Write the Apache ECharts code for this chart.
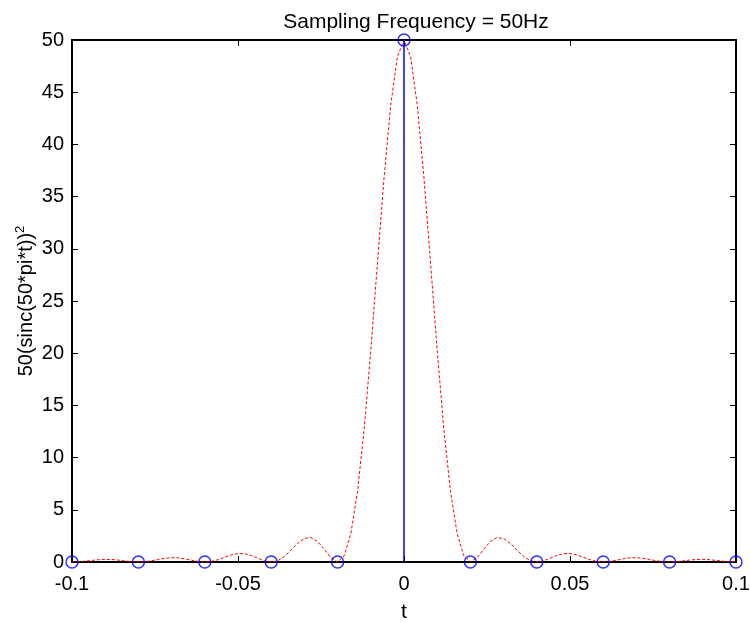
<!DOCTYPE html>
<html>
<head>
<meta charset="utf-8">
<script src="https://cdn.jsdelivr.net/npm/echarts@6/dist/echarts.min.js"></script>
<style>
html,body{margin:0;padding:0;background:#fff;}
#main{width:750px;height:622px;}
</style>
</head>
<body>
<div id="main"></div>
<script>
// dashed curve, t from -0.1 to 0.1 step 0.002
var curveT = [];
for (var i = 0; i <= 100; i++) curveT.push(+(-0.1 + i * 0.002).toFixed(3));
var curveHalf = [50, 48.38, 43.76, 36.84, 28.64, 20.26, 12.73, 6.77, 2.73, 0.60,
  0, 0.40, 1.22, 1.96, 2.34, 2.25, 1.79, 1.15, 0.54, 0.13,
  0, 0.11, 0.36, 0.63, 0.80, 0.81, 0.68, 0.45, 0.22, 0.06,
  0, 0.05, 0.17, 0.30, 0.40, 0.41, 0.35, 0.24, 0.12, 0.03,
  0, 0.03, 0.10, 0.18, 0.24, 0.25, 0.22, 0.15, 0.08, 0.02, 0];
// mirror for negative side (curve is symmetric in the picture)
var curveV = curveHalf.slice(1).reverse().concat(curveHalf);

// samples (stem points)
var sampleT = [-0.1, -0.08, -0.06, -0.04, -0.02, 0, 0.02, 0.04, 0.06, 0.08, 0.1];
var sampleV = [0, 0, 0, 0, 0, 50, 0, 0, 0, 0, 0];

var xTicks = [-0.1, -0.05, 0, 0.05, 0.1];
var xTickLabels = ['-0.1', '-0.05', '0', '0.05', '0.1'];

var curveData = curveT.map(function (t, i) { return [t, curveV[i]]; });
var stemData = [];
sampleT.forEach(function (t, i) {
  stemData.push([t, 0]); stemData.push([t, sampleV[i]]); stemData.push([t, '-']);
});
var pointData = sampleT.map(function (t, i) { return [t, sampleV[i]]; });

var font = 'Liberation Sans, Arial, sans-serif';
var myChart = echarts.init(document.getElementById('main'));
var option = {
  backgroundColor: '#fff',
  animation: false,
  title: {
    text: 'Sampling Frequency = 50Hz',
    left: 411, top: 7, textAlign: 'center',
    textStyle: {fontFamily: font, fontSize: 21, fontWeight: 'normal', color: '#000'}
  },
  grid: {left: 72, right: 14, top: 40, bottom: 60, outerBoundsMode: 'none'},
  xAxis: [{
    type: 'value', min: -0.1, max: 0.1, interval: 0.05,
    name: 't', nameLocation: 'middle', nameGap: 40, nameMoveOverlap: false,
    nameTextStyle: {fontFamily: font, fontSize: 21, color: '#000'},
    axisLine: {onZero: false, lineStyle: {color: '#000', width: 2}},
    axisTick: {inside: true, length: 6, lineStyle: {color: '#000'}},
    axisLabel: {fontFamily: font, fontSize: 20, color: '#000', margin: 12,
      formatter: function (v) {
        var k = xTicks.findIndex(function (x) { return Math.abs(x - v) < 1e-9; });
        return k >= 0 ? xTickLabels[k] : '';
      }},
    splitLine: {show: false}
  }, {
    type: 'value', min: -0.1, max: 0.1, interval: 0.05, position: 'top',
    axisLine: {onZero: false, lineStyle: {color: '#000', width: 2}},
    axisTick: {inside: true, length: 6, lineStyle: {color: '#000'}},
    axisLabel: {show: false}, splitLine: {show: false}
  }],
  yAxis: [{
    type: 'value', min: 0, max: 50, interval: 5,
    name: '50(sinc(50*pi*t)){sup|2}', nameLocation: 'middle', nameGap: 33, nameRotate: 90,
    nameMoveOverlap: false,
    nameTextStyle: {fontFamily: font, fontSize: 20, color: '#000',
      rich: {sup: {fontFamily: font, fontSize: 13, color: '#000', padding: [0, 0, 12, 0]}}},
    axisLine: {onZero: false, lineStyle: {color: '#000', width: 2}},
    axisTick: {inside: true, length: 6, lineStyle: {color: '#000'}},
    axisLabel: {fontFamily: font, fontSize: 20, color: '#000', margin: 8},
    splitLine: {show: false}
  }, {
    type: 'value', min: 0, max: 50, interval: 5, position: 'right',
    axisLine: {onZero: false, lineStyle: {color: '#000', width: 2}},
    axisTick: {inside: true, length: 6, lineStyle: {color: '#000'}},
    axisLabel: {show: false}, splitLine: {show: false}
  }],
  series: [{
    type: 'line', data: curveData, symbol: 'none', z: 2,
    lineStyle: {color: '#ff0000', width: 1, type: [3, 2]}
  }, {
    type: 'line', data: stemData, symbol: 'none', connectNulls: false, z: 3,
    lineStyle: {color: '#0000ff', width: 1.5}
  }, {
    type: 'scatter', data: pointData, symbol: 'circle', symbolSize: 12, z: 4,
    itemStyle: {color: 'rgba(0,0,0,0)', borderColor: '#0000ff', borderWidth: 1.5}
  }]
};
myChart.setOption(option);
</script>
</body>
</html>
